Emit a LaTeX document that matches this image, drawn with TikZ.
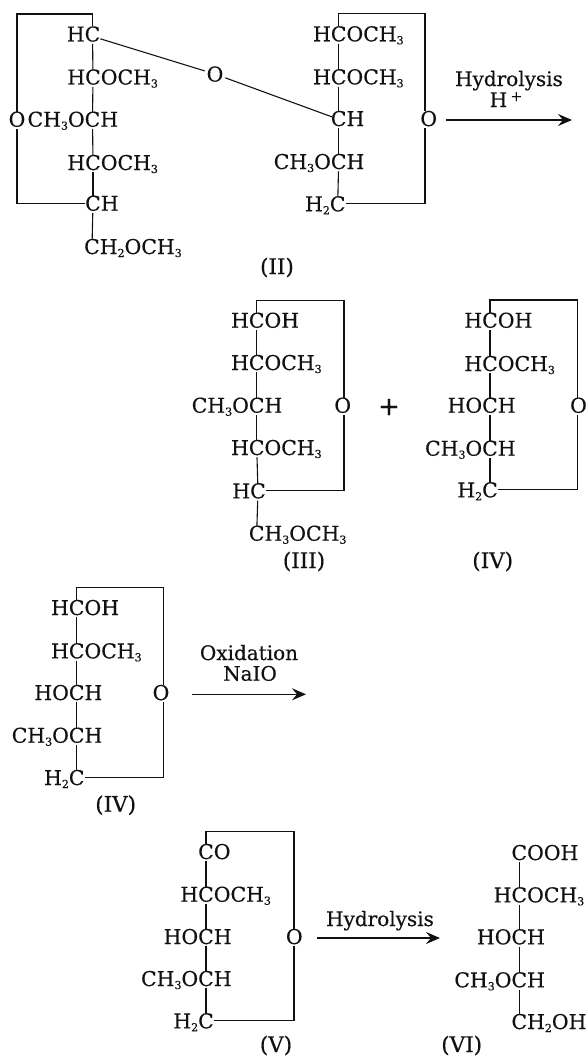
\documentclass[tikz,border=0pt]{standalone}
\usepackage{fontspec}
\setmainfont[FakeBold=0.5]{DejaVu Serif}
\usetikzlibrary{arrows.meta}
\definecolor{ink}{HTML}{111111}
\newcommand{\dn}[1]{\raisebox{-3pt}{\fontsize{11}{11}\selectfont #1}}
\newcommand{\up}[1]{\raisebox{6pt}{\fontsize{14}{14}\selectfont #1}}
% \grp{name}{x}{baseline y}{text left of C}{text right of C}
\newcommand{\grp}[5]{%
  \node[atom,anchor=base] (#1) at (#2,#3) {C};%
  \if\relax\detokenize{#4}\relax\else\node[atom,anchor=base east] (#1-l) at (#1.base west) {#4};\fi
  \if\relax\detokenize{#5}\relax\else\node[atom,anchor=base west] (#1-r) at (#1.base east) {#5};\fi
}
\tikzset{
  atom/.style={inner sep=0pt,outer sep=0pt,text=ink,font=\fontsize{20.4}{20.4}\selectfont},
  ringo/.style={atom,anchor=base},
  caption/.style={atom,anchor=base,font=\fontsize{21.5}{21.5}\selectfont},
  label/.style={inner sep=0pt,text=ink,anchor=base,font=\fontsize{20}{20}\selectfont},
  bond/.style={draw=ink,line width=1.1pt,shorten <=2pt,shorten >=-1pt},
  ringline/.style={draw=ink,line width=1.1pt,line join=miter},
  arrowline/.style={draw=ink,line width=1.5pt,-{Stealth[length=14pt,width=12pt,inset=5pt]}}
}
\begin{document}
\begin{tikzpicture}[x=1pt,y=-1pt]
\useasboundingbox (0,0) rectangle (586,1057);
% ---------- (II) left ring
\grp{a1}{92.5}{41.5}{H}{}
\grp{a2}{93}{84.5}{H}{OCH\dn{3}}
\grp{a3}{92.5}{126.7}{CH\dn{3}O}{H}
\grp{a4}{93}{170}{H}{OCH\dn{3}}
\grp{a5}{93}{210.7}{}{H}
\grp{a6}{92}{254}{}{H\dn{2}OCH\dn{3}}
\node[ringo] (ao) at (17,126.7) {O};
\coordinate (atl) at (17,14);
\draw[bond] (a1) -- (a2);
\draw[bond] (a2) -- (a3);
\draw[bond] (a3) -- (a4);
\draw[bond] (a4) -- (a5);
\draw[bond] (a5) -- (a6);
\draw[ringline] (a1.north) |- (atl) -- (ao.north);
\draw[ringline,shorten <=2pt] (ao.south) |- (a5.west);
% ---------- (II) right ring
\grp{b1}{338.7}{41.3}{H}{OCH\dn{3}}
\grp{b2}{338.7}{84.3}{H}{OCH\dn{3}}
\grp{b3}{338.7}{126}{}{H}
\grp{b4}{338.7}{169}{CH\dn{3}O}{H}
\grp{b5}{337.7}{211.3}{H\dn{2}}{}
\node[ringo] (bo) at (428.7,126) {O};
\coordinate (btr) at (425,13.5);
\draw[bond] (b1) -- (b2);
\draw[bond] (b2) -- (b3);
\draw[bond] (b3) -- (b4);
\draw[bond] (b4) -- (b5);
\draw[ringline] (b1.north) |- (btr) -- (btr |- bo.north);
\draw[ringline,shorten <=2pt] (btr |- bo.south) |- (b5.east);
% glycosidic link
\node[ringo] (lo) at (215,81.5) {O};
\draw[ringline,shorten >=2pt] (a1.south east) ++(0,-3) coordinate (a1e) -- (lo);
\draw[ringline,shorten <=2pt,shorten >=-1pt] (lo) -- (b3.165);
% arrow 1
\node[inner sep=0pt] (h1) at (445.3,120) {};
\node[inner sep=0pt] (h2) at (572.7,120) {};
\draw[arrowline] (h1) -- (h2);
\node[label] (h1t) at (509,86) {Hydrolysis};
\node[label] (h1u) at (506,107) {H\,\up{+}};
\node[caption] (cII) at (277,274) {(II)};
% ---------- (III)
\grp{c1}{256.7}{327.7}{H}{OH}
\grp{c2}{256.7}{370}{H}{OCH\dn{3}}
\grp{c3}{256.7}{412.7}{CH\dn{3}O}{H}
\grp{c4}{256.7}{455}{H}{OCH\dn{3}}
\grp{c5}{258}{498.3}{H}{}
\grp{c6}{256.7}{540.7}{}{H\dn{3}OCH\dn{3}}
\node[ringo] (co) at (342.7,412.7) {O};
\coordinate (ctr) at (344,300.7);
\draw[bond] (c1) -- (c2);
\draw[bond] (c2) -- (c3);
\draw[bond] (c3) -- (c4);
\draw[bond] (c4) -- (c5);
\draw[bond] (c5) -- (c6);
\draw[ringline] (c1.north) |- (ctr) -- (ctr |- co.north);
\draw[ringline,shorten <=2pt] (ctr |- co.south) |- (c5.east);
\node[caption] (cIII) at (304,568) {(III)};
\node[atom,font=\fontsize{26}{26}\selectfont] (plus) at (389,407) {+};
% ---------- (IV) upper
\grp{d1}{490}{327.7}{H}{OH}
\grp{d2}{490}{371}{H}{OCH\dn{3}}
\grp{d3}{490}{412.7}{HO}{H}
\grp{d4}{490}{455.7}{CH\dn{3}O}{H}
\grp{d5}{490}{497.3}{H\dn{2}}{}
\node[ringo] (do) at (578.5,412.7) {O};
\coordinate (dtr) at (577.5,300);
\draw[bond] (d1) -- (d2);
\draw[bond] (d2) -- (d3);
\draw[bond] (d3) -- (d4);
\draw[bond] (d4) -- (d5);
\draw[ringline] (d1.north) |- (dtr) -- (dtr |- do.north);
\draw[ringline,shorten <=2pt] (dtr |- do.south) |- (d5.east);
\node[caption] (cIVa) at (492.7,568) {(IV)};
% ---------- (IV) lower
\grp{e1}{76.7}{615}{H}{OH}
\grp{e2}{76.7}{658.3}{H}{OCH\dn{3}}
\grp{e3}{76.7}{700}{HO}{H}
\grp{e4}{76.7}{742.7}{CH\dn{3}O}{H}
\grp{e5}{76.7}{785}{H\dn{2}}{}
\node[ringo] (eo) at (161,700) {O};
\coordinate (etr) at (163.5,587.5);
\draw[bond] (e1) -- (e2);
\draw[bond] (e2) -- (e3);
\draw[bond] (e3) -- (e4);
\draw[bond] (e4) -- (e5);
\draw[ringline] (e1.north) |- (etr) -- (etr |- eo.north);
\draw[ringline,shorten <=2pt] (etr |- eo.south) |- (e5.east);
\node[inner sep=0pt] (o1) at (191.7,694.3) {};
\node[inner sep=0pt] (o2) at (306.7,694.3) {};
\draw[arrowline] (o1) -- (o2);
\node[label] (o1t) at (249,660) {Oxidation};
\node[label] (o1u) at (250,680.7) {NaIO};
\node[caption] (cIVb) at (115.7,811.7) {(IV)};
% ---------- (V)
\grp{f1}{206}{859}{}{O}
\grp{f2}{206}{901.7}{H}{OCH\dn{3}}
\grp{f3}{206}{944}{HO}{H}
\grp{f4}{206}{986}{CH\dn{3}O}{H}
\grp{f5}{206}{1028.3}{H\dn{2}}{}
\node[ringo] (fo) at (294.3,944) {O};
\coordinate (ftr) at (294,831.7);
\draw[bond] (f1) -- (f2);
\draw[bond] (f2) -- (f3);
\draw[bond] (f3) -- (f4);
\draw[bond] (f4) -- (f5);
\draw[ringline] (f1.north) |- (ftr) -- (ftr |- fo.north);
\draw[ringline,shorten <=2pt] (ftr |- fo.south) |- (f5.east);
\node[inner sep=0pt] (g1) at (316,938) {};
\node[inner sep=0pt] (g2) at (440.7,938) {};
\draw[arrowline] (g1) -- (g2);
\node[label] (g1t) at (380,926) {Hydrolysis};
\node[caption] (cV) at (276,1052) {(V)};
% ---------- (VI)
\grp{k1}{519.3}{860}{}{OOH}
\grp{k2}{519.3}{902.3}{H}{OCH\dn{3}}
\grp{k3}{519.3}{944.3}{HO}{H}
\grp{k4}{519.3}{987.3}{CH\dn{3}O}{H}
\grp{k5}{519.3}{1029}{}{H\dn{2}OH}
\draw[bond] (k1) -- (k2);
\draw[bond] (k2) -- (k3);
\draw[bond] (k3) -- (k4);
\draw[bond] (k4) -- (k5);
\node[caption] (cVI) at (461.7,1052) {(VI)};
\end{tikzpicture}
\end{document}
